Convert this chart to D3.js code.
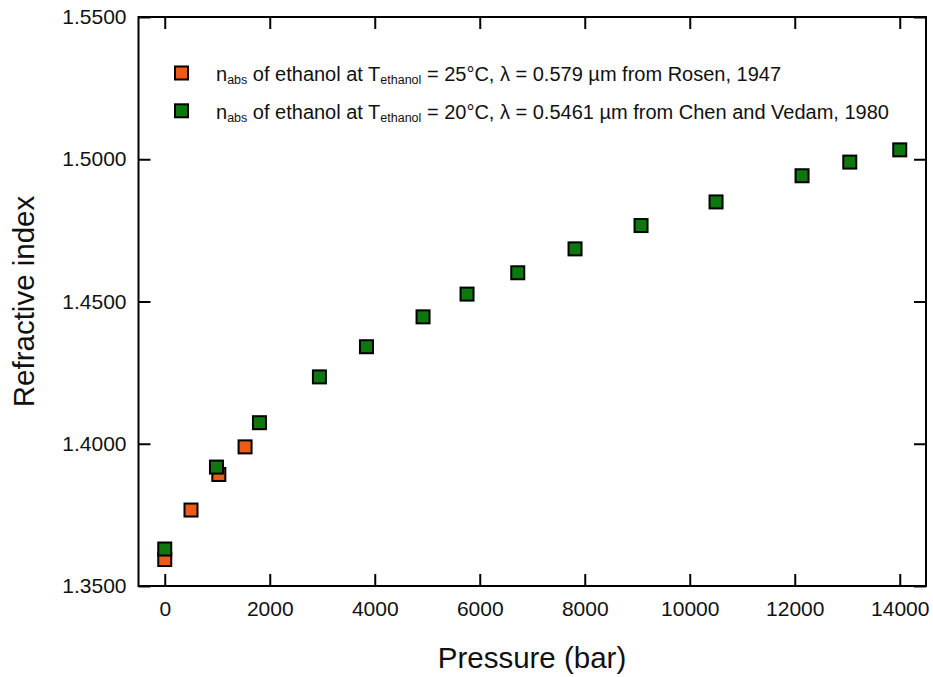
<!DOCTYPE html>
<html><head><meta charset="utf-8">
<script src="https://cdn.jsdelivr.net/npm/d3@7"></script>
<style>html,body{margin:0;padding:0;background:#fff;}svg{display:block;font-family:Arial,"Liberation Sans",sans-serif;}</style>
</head><body>
<svg id="chart" width="933" height="677"></svg>
<script>
const rosenPressure = [0, 500, 1030, 1530];
const rosenIndex = [1.3593, 1.3767, 1.3892, 1.3989];
const chenPressure = [0, 985, 1804, 2946, 3842, 4920, 5758, 6724, 7815, 9072, 10501, 12139, 13048, 14000];
const chenIndex = [1.3630, 1.3918, 1.4074, 1.4235, 1.4341, 1.4446, 1.4526, 1.4601, 1.4685, 1.4767, 1.4850, 1.4942, 1.4990, 1.5033];
const xTicks = [0, 2000, 4000, 6000, 8000, 10000, 12000, 14000];
const yTicks = [1.35, 1.40, 1.45, 1.50, 1.55];

const svg = d3.select("#chart");
const L = 138.5, R = 926, T = 17, B = 586;
const x = d3.scaleLinear().domain([-500, 14500]).range([L, R]);
const y = d3.scaleLinear().domain([1.35, 1.55]).range([B, T]);
const orange = "#EE5A17", green = "#0E780E";

svg.append("rect").attr("x", L).attr("y", T).attr("width", R - L).attr("height", B - T)
  .attr("fill", "none").attr("stroke", "#000").attr("stroke-width", 2);

const tl = 12;
const axB = svg.append("g").attr("transform", `translate(0,${B})`)
  .call(d3.axisBottom(x).tickValues(xTicks).tickSize(-tl).tickPadding(15).tickFormat(d3.format("d")));
const axT = svg.append("g").attr("transform", `translate(0,${T})`)
  .call(d3.axisTop(x).tickValues(xTicks).tickSize(-tl).tickFormat(""));
const axL = svg.append("g").attr("transform", `translate(${L},0)`)
  .call(d3.axisLeft(y).tickValues(yTicks).tickSize(-tl).tickPadding(12).tickFormat(d3.format(".4f")));
const axR = svg.append("g").attr("transform", `translate(${R},0)`)
  .call(d3.axisRight(y).tickValues(yTicks).tickSize(-tl).tickFormat(""));
[axB, axT, axL, axR].forEach(a => {
  a.select(".domain").remove();
  a.selectAll(".tick line").attr("stroke", "#000").attr("stroke-width", 2);
  a.selectAll(".tick text").attr("fill", "#111").attr("font-size", 21).attr("font-family", "Arial, 'Liberation Sans', sans-serif");
});
axB.selectAll(".tick text").attr("dy", "0.71em");

svg.append("text").attr("x", 532).attr("y", 668).attr("text-anchor", "middle")
  .attr("font-size", 29.5).attr("fill", "#111").text("Pressure (bar)");
svg.append("text").attr("transform", `translate(34,${(T + B) / 2}) rotate(-90)`).attr("text-anchor", "middle")
  .attr("font-size", 29.5).attr("fill", "#111").text("Refractive index");

const ms = 13;
function drawSeries(px, py, color) {
  svg.append("g").selectAll("rect").data(px.map((p, i) => [p, py[i]])).join("rect")
    .attr("x", d => x(d[0]) - ms / 2).attr("y", d => y(d[1]) - ms / 2)
    .attr("width", ms).attr("height", ms)
    .attr("fill", color).attr("stroke", "#000").attr("stroke-width", 2);
}
drawSeries(rosenPressure, rosenIndex, orange);
drawSeries(chenPressure, chenIndex, green);

const legend = [
  {color: orange, rest: " = 25°C, λ = 0.579 µm from Rosen, 1947"},
  {color: green, rest: " = 20°C, λ = 0.5461 µm from Chen and Vedam, 1980"}
];
legend.forEach((d, i) => {
  const cy = 73 + i * 37.8;
  svg.append("rect").attr("x", 181.5 - ms / 2).attr("y", cy - ms / 2).attr("width", ms).attr("height", ms)
    .attr("fill", d.color).attr("stroke", "#000").attr("stroke-width", 2);
  const t = svg.append("text").attr("x", 216).attr("y", cy + 8).attr("font-size", 20).attr("fill", "#111");
  t.append("tspan").text("n");
  t.append("tspan").attr("font-size", 12.5).attr("dy", 3).text("abs");
  t.append("tspan").attr("dy", -3).text(" of ethanol at T");
  t.append("tspan").attr("font-size", 12.5).attr("dy", 3).text("ethanol");
  t.append("tspan").attr("dy", -3).text(d.rest);
});
</script>
</body></html>
